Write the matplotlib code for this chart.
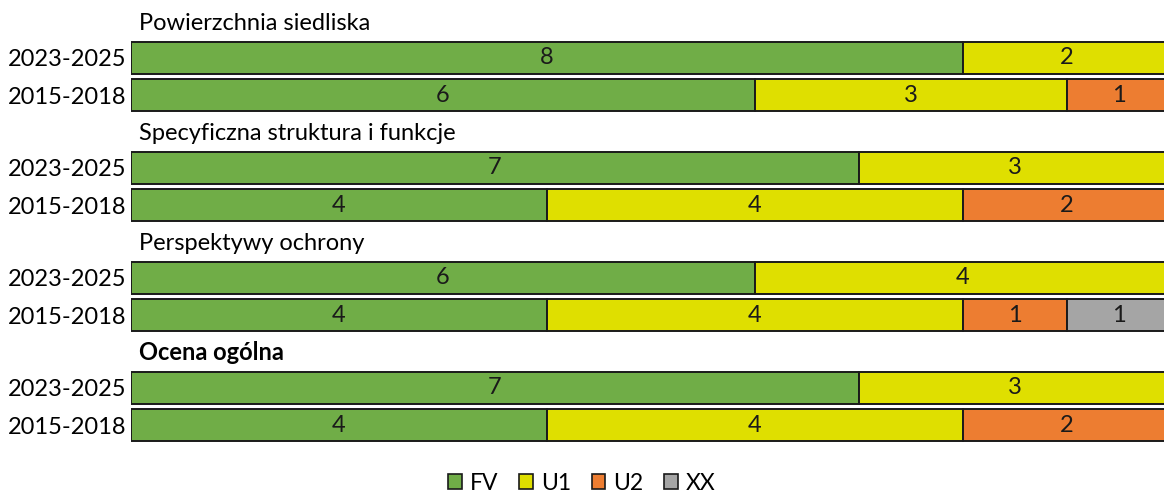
import matplotlib.pyplot as plt
from matplotlib.patches import Patch
import numpy as np

# Data
groups = ["Powierzchnia siedliska", "Specyficzna struktura i funkcje",
          "Perspektywy ochrony", "Ocena ogólna"]
periods = ["2023-2025", "2015-2018"]
categories = ["FV", "U1", "U2", "XX"]
colors = ["#70AD47", "#DFDF00", "#ED7D31", "#A5A5A5"]

# counts per group, rows = periods (2023-2025, 2015-2018), cols = FV, U1, U2, XX
counts_surface = [[8, 2, 0, 0], [6, 3, 1, 0]]
counts_structure = [[7, 3, 0, 0], [4, 4, 2, 0]]
counts_prospects = [[6, 4, 0, 0], [4, 4, 1, 1]]
counts_overall = [[7, 3, 0, 0], [4, 4, 2, 0]]
all_counts = [counts_surface, counts_structure, counts_prospects, counts_overall]

plt.rcParams["font.family"] = ["Lato", "DejaVu Sans"]
fs = 17

W, H = 1164, 497
fig = plt.figure(figsize=(W / 100, H / 100), dpi=100)
x0, x1 = 131, 1171
ax = fig.add_axes([x0 / W, 0, (x1 - x0) / W, 1])
ax.set_xlim(0, 10)
ax.set_ylim(H, 0)

tick_pos = []
tick_lab = []
for g, (name, counts) in enumerate(zip(groups, all_counts)):
    base = 58 + 110 * g
    ax.text(0.08, base - 35, name, ha="left", va="center", fontsize=fs,
            fontweight="bold" if g == 3 else "normal")
    for r, row in enumerate(counts):
        y = base + 37 * r
        tick_pos.append(y)
        tick_lab.append(periods[r])
        left = 0
        for c, v in enumerate(row):
            if v == 0:
                continue
            ax.barh(y, v, left=left, height=32, color=colors[c],
                    edgecolor="#1a1a1a", linewidth=1.4)
            ax.text(left + v / 2, y, str(v), ha="center", va="center",
                    fontsize=fs, color="#1a1a1a")
            left += v

ax.set_yticks(tick_pos)
ax.set_yticklabels(tick_lab, fontsize=fs)
ax.tick_params(axis="y", length=0, pad=3)
ax.set_xticks([])
for s in ax.spines.values():
    s.set_visible(False)

handles = [Patch(facecolor=col, edgecolor="#1a1a1a", linewidth=1.2, label=cat)
           for cat, col in zip(categories, colors)]
fig.legend(handles=handles, loc="center", bbox_to_anchor=(0.5, 1 - 483 / H),
           ncol=4, frameon=False, fontsize=16.5, handlelength=0.6,
           handleheight=0.6, handletextpad=0.35, columnspacing=0.9,
           borderpad=0.2)

fig.savefig("out.png", dpi=100)
